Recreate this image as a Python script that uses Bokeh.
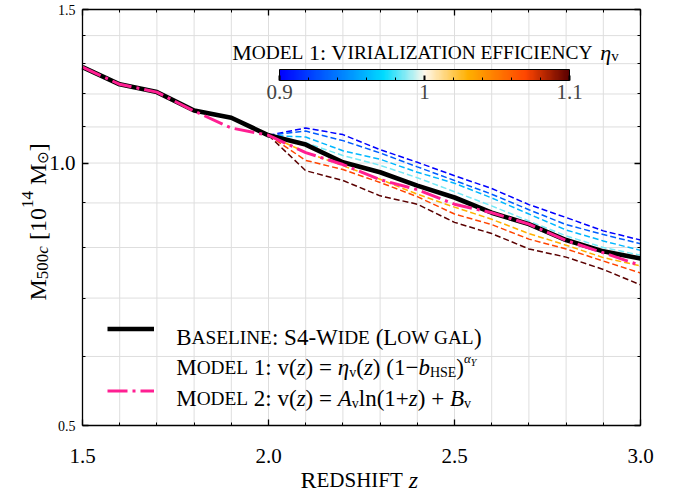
import math
from bokeh.plotting import figure
from bokeh.models import (Range1d, FixedTicker, LinearAxis, LogAxis, Label, Legend, LegendItem,
                          ColorBar, LinearColorMapper, CustomJSTickFormatter, LogScale)
from bokeh.embed import file_html
from bokeh.resources import INLINE

# ------------------------------------------------------------------ data
redshift = [1.5, 1.6, 1.7, 1.8, 1.9, 2.0, 2.1, 2.2, 2.3, 2.4, 2.5, 2.6, 2.7, 2.8, 2.9, 3.0]
mass_baseline = [1.288, 1.231, 1.206, 1.149, 1.127, 1.076, 1.050, 1.002, 0.976, 0.942, 0.913,
                 0.877, 0.851, 0.816, 0.792, 0.777]
mass_model2 = [1.288, 1.231, 1.206, 1.147, 1.097, 1.076, 1.028, 0.996, 0.957, 0.932, 0.897,
               0.877, 0.851, 0.815, 0.789, 0.763]

redshift_model1 = [2.0, 2.1, 2.2, 2.3, 2.4, 2.5, 2.6, 2.7, 2.8, 2.9, 3.0]
eta_values = [0.90, 0.93, 0.96, 0.985, 1.03, 1.07, 1.10]
mass_eta_0900 = [1.076, 1.097, 1.078, 1.036, 1.002, 0.967, 0.935, 0.896, 0.866, 0.836, 0.816]
mass_eta_0930 = [1.076, 1.088, 1.061, 1.027, 0.990, 0.955, 0.921, 0.884, 0.850, 0.828, 0.808]
mass_eta_0960 = [1.076, 1.071, 1.033, 1.010, 0.976, 0.948, 0.912, 0.874, 0.838, 0.814, 0.794]
mass_eta_0985 = [1.076, 1.055, 1.020, 0.994, 0.962, 0.927, 0.893, 0.858, 0.825, 0.800, 0.784]
mass_eta_1030 = [1.076, 1.029, 0.993, 0.958, 0.921, 0.890, 0.862, 0.830, 0.805, 0.779, 0.762]
mass_eta_1070 = [1.076, 1.007, 0.983, 0.950, 0.915, 0.874, 0.850, 0.818, 0.797, 0.772, 0.748]
mass_eta_1100 = [1.076, 0.980, 0.955, 0.917, 0.897, 0.855, 0.830, 0.797, 0.780, 0.755, 0.725]
model1_series = [mass_eta_0900, mass_eta_0930, mass_eta_0960, mass_eta_0985,
                 mass_eta_1030, mass_eta_1070, mass_eta_1100]

x_limits = (1.5, 3.0)
y_limits = (0.5, 1.5)
x_major_ticks = [1.5, 2.0, 2.5, 3.0]
x_minor_ticks = [1.6, 1.7, 1.8, 1.9, 2.1, 2.2, 2.3, 2.4, 2.6, 2.7, 2.8, 2.9]
x_tick_labels = ["1.5", "2.0", "2.5", "3.0"]
y_major_ticks = [0.5, 1.0, 1.5]
y_minor_ticks = [0.6, 0.7, 0.8, 0.9, 1.1, 1.2, 1.3, 1.4]
y_tick_labels = ["0.5", "1.0", "1.5"]
y_tick_label_sizes = [14, 21, 14]
cbar_low, cbar_high = 0.9, 1.1
cbar_major_ticks = [0.9, 1.0, 1.1]
cbar_minor_ticks = [0.92, 0.94, 0.96, 0.98, 1.02, 1.04, 1.06, 1.08]

# ------------------------------------------------------------------ layout (pixels)
WIDTH, HEIGHT = 689, 491
FR_L, FR_R, FR_T, FR_B = 82, 640, 9, 425   # plotting box inside the canvas

xpp = (x_limits[1] - x_limits[0]) / (FR_R - FR_L)
x_start = x_limits[0] - FR_L * xpp
x_end = x_limits[1] + (WIDTH - FR_R) * xpp
lpp = (math.log10(y_limits[1]) - math.log10(y_limits[0])) / (FR_B - FR_T)
y_start = 10 ** (math.log10(y_limits[0]) - (HEIGHT - FR_B) * lpp)
y_end = 10 ** (math.log10(y_limits[1]) + FR_T * lpp)

# ------------------------------------------------------------------ colours
CMAP_STOPS = [(0.00, (0, 0, 255)), (0.36, (0, 220, 255)), (0.50, (255, 248, 236)),
              (0.65, (255, 176, 0)), (0.85, (255, 69, 0)), (1.00, (90, 0, 0))]


def cmap(t):
    t = min(max(t, 0.0), 1.0)
    for (t0, c0), (t1, c1) in zip(CMAP_STOPS[:-1], CMAP_STOPS[1:]):
        if t <= t1:
            f = (t - t0) / (t1 - t0)
            return "#%02x%02x%02x" % tuple(int(round(a + (b - a) * f)) for a, b in zip(c0, c1))
    return "#%02x%02x%02x" % CMAP_STOPS[-1][1]


palette = [cmap(i / 255) for i in range(256)]
line_colors = [cmap((e - cbar_low) / (cbar_high - cbar_low)) for e in eta_values]

SERIF = "Liberation Serif"

# ------------------------------------------------------------------ figure
p = figure(width=WIDTH, height=HEIGHT, x_range=Range1d(x_start, x_end),
           y_range=Range1d(y_start, y_end), y_axis_type="log",
           x_axis_location=None, y_axis_location=None,
           output_backend="svg", toolbar_location=None, title=None,
           min_border_left=0, min_border_right=0, min_border_top=0, min_border_bottom=0)
p.y_scale = LogScale()
p.background_fill_color = "white"
p.border_fill_color = "white"
p.outline_line_color = None
p.xgrid.visible = False
p.ygrid.visible = False

# grid lines, bounded to the plotting box
grid_x = sorted(x_major_ticks + x_minor_ticks)
grid_y = sorted(y_major_ticks + y_minor_ticks)
p.segment(x0=grid_x, y0=[y_limits[0]] * len(grid_x), x1=grid_x, y1=[y_limits[1]] * len(grid_x),
          line_color="#dedede", line_width=1)
p.segment(x0=[x_limits[0]] * len(grid_y), y0=grid_y, x1=[x_limits[1]] * len(grid_y), y1=grid_y,
          line_color="#dedede", line_width=1)

blank = CustomJSTickFormatter(code="return '';")


def frame_axis(cls, side, loc, ticks, minor, bounds):
    ax = cls(ticker=FixedTicker(ticks=ticks, minor_ticks=minor), formatter=blank,
             fixed_location=loc, bounds=bounds)
    ax.axis_line_color = "black"
    ax.axis_line_width = 1.3
    ax.major_tick_in = 6
    ax.major_tick_out = 0
    ax.minor_tick_in = 3
    ax.minor_tick_out = 0
    ax.major_tick_line_color = "black"
    ax.minor_tick_line_color = "black"
    ax.major_tick_line_width = 1.3
    ax.minor_tick_line_width = 1
    ax.major_label_text_font_size = "0px"
    ax.major_label_standoff = 0
    p.add_layout(ax, side)


frame_axis(LinearAxis, "below", y_limits[0], x_major_ticks, x_minor_ticks, x_limits)
frame_axis(LinearAxis, "above", y_limits[1], x_major_ticks, x_minor_ticks, x_limits)
frame_axis(LogAxis, "left", x_limits[0], y_major_ticks, y_minor_ticks, y_limits)
frame_axis(LogAxis, "right", x_limits[1], y_major_ticks, y_minor_ticks, y_limits)

# tick labels
for t, lab in zip(x_major_ticks, x_tick_labels):
    p.add_layout(Label(x=t, x_units="data", y=HEIGHT - 455, y_units="screen", text=lab,
                       text_font=SERIF, text_font_size="21px", text_align="center",
                       text_baseline="alphabetic", text_color="black"))
for t, lab, sz in zip(y_major_ticks, y_tick_labels, y_tick_label_sizes):
    p.add_layout(Label(x=FR_L - 7, x_units="screen", y=t, y_units="data", text=lab,
                       text_font=SERIF, text_font_size="%dpx" % sz, text_align="right",
                       text_baseline="middle", text_color="black"))

# ------------------------------------------------------------------ lines
for series, col in zip(model1_series, line_colors):
    p.line(redshift_model1, series, line_color=col, line_width=1.5, line_dash="6 3")

r_base = p.line(redshift, mass_baseline, line_color="black", line_width=4.6)
r_m2 = p.line(redshift, mass_model2, line_color="#ff1f92", line_width=3, line_dash="20 5 3 5")
r_m1_key = p.line(x=[], y=[], line_color="black", line_width=1.4, line_dash="5 3")

legend = Legend(items=[LegendItem(label=" ", renderers=[r_base]),
                       LegendItem(label=" ", renderers=[r_m1_key]),
                       LegendItem(label=" ", renderers=[r_m2])],
                location=(107, 85), glyph_width=47, glyph_height=31, label_height=31,
                label_width=1, label_standoff=0, spacing=0, padding=0, margin=0,
                label_text_font_size="6px", border_line_color=None,
                background_fill_alpha=0)
p.add_layout(legend)

# ------------------------------------------------------------------ colour bar
mapper = LinearColorMapper(palette=palette, low=cbar_low, high=cbar_high)
cbar = ColorBar(color_mapper=mapper, orientation="horizontal", width=290, height=11,
                padding=0, margin=0, location=(279, 390),
                ticker=FixedTicker(ticks=cbar_major_ticks, minor_ticks=cbar_minor_ticks),
                formatter=CustomJSTickFormatter(
                    code="return Math.abs(tick - 1) < 1e-6 ? '1' : tick.toFixed(1);"),
                major_label_text_font=SERIF, major_label_text_font_size="21px",
                label_standoff=4, major_tick_in=5, major_tick_out=0, minor_tick_in=3,
                minor_tick_out=0, major_tick_line_color="black", major_tick_line_width=2,
                minor_tick_line_color="black", minor_tick_line_width=1,
                bar_line_color="black", bar_line_width=1,
                background_fill_alpha=0, border_line_color=None)
p.add_layout(cbar)

# ------------------------------------------------------------------ rich text helpers
TIMES = {' ': 250, '(': 333, ')': 333, '+': 564, ',': 250, '-': 333, '.': 250, ':': 278,
         '=': 564, '[': 333, ']': 333, '\u2212': 564, '\u03b7': 500, '\u03b1': 520,
         '\u2299': 838,
         'A': 722, 'B': 667, 'C': 667, 'D': 722, 'E': 611, 'F': 556, 'G': 722, 'H': 722,
         'I': 333, 'J': 389, 'K': 722, 'L': 611, 'M': 889, 'N': 722, 'O': 722, 'P': 556,
         'Q': 722, 'R': 667, 'S': 556, 'T': 611, 'U': 722, 'V': 722, 'W': 944, 'X': 722,
         'Y': 722, 'Z': 611,
         'a': 444, 'b': 500, 'c': 444, 'd': 500, 'e': 444, 'f': 333, 'g': 500, 'h': 500,
         'i': 278, 'l': 278, 'n': 500, 'o': 500, 'r': 333, 's': 389, 't': 278, 'v': 500,
         'z': 444}
for d in "0123456789":
    TIMES[d] = 500
TIMES_I = {'z': 389, 'b': 500, 'A': 611, 'B': 611, 'c': 444, 'v': 444, 'Y': 556,
           '\u03b7': 500, '\u03b1': 520}


def add_runs(runs, x0, y0, angle=0.0):
    adv = 0.0
    for run in runs:
        text, size, italic, dy = run[:4]
        font = run[4] if len(run) > 4 else SERIF
        table = TIMES_I if italic else TIMES
        core = text.strip(' ')
        lead = len(text) - len(text.lstrip(' '))
        trail = len(text) - lead - len(core)
        adv += lead * 250 * size / 1000.0
        if core:
            if angle == 0.0:
                lx, ly = x0 + adv, y0 + dy
            else:
                lx, ly = x0 - dy, y0 + adv
            p.add_layout(Label(x=lx, y=ly, x_units="screen", y_units="screen", text=core,
                               text_font=font, text_font_size="%gpx" % size,
                               text_font_style="italic" if italic else "normal",
                               text_color="black", text_baseline="alphabetic",
                               text_align="left", angle=angle))
            adv += sum(table.get(ch, TIMES.get(ch, 500)) for ch in core) * size / 1000.0
        adv += trail * 250 * size / 1000.0


C, S, SUB = 23, 19.3, 14
# colour-bar title
add_runs([("M", 22, False, 0), ("ODEL", 19.4, False, 0), (" 1: V", 22, False, 0),
          ("IRIALIZATION EFFICIENCY", 19.4, False, 0), (" \u03b7", 22, True, 0),
          ("v", 15, False, -4)], 231.7, HEIGHT - 51.7)
# legend texts
add_runs([("B", C, False, 0), ("ASELINE", S, False, 0), (": S4-W", C, False, 0),
          ("IDE", S, False, 0), (" (L", C, False, 0), ("OW GAL", S, False, 0),
          (")", C, False, 0)], 175.7, HEIGHT - 337.3)
add_runs([("M", C, False, 0), ("ODEL", S, False, 0), (" 1: v(", C, False, 0),
          ("z", C, True, 0), (") = ", C, False, 0), ("\u03b7", C, True, 0),
          ("v", SUB, False, -5), ("(", C, False, 0), ("z", C, True, 0),
          (") (1", C, False, 0), ("\u2212", C, False, 0), ("b", C, True, 0),
          ("HSE", SUB, False, -5), (")", C, False, 0), ("\u03b1", 13, True, 9),
          ("Y", 10, True, 5)], 175.7, HEIGHT - 367.3)
add_runs([("M", C, False, 0), ("ODEL", S, False, 0), (" 2: v(", C, False, 0),
          ("z", C, True, 0), (") = ", C, False, 0), ("A", C, True, 0),
          ("v", SUB, False, -5), ("ln(1+", C, False, 0), ("z", C, True, 0),
          (") + ", C, False, 0), ("B", C, True, 0), ("v", SUB, False, -5)],
         175.7, HEIGHT - 398.3)
# x-axis label
add_runs([("R", 24, False, 0), ("EDSHIFT", 21, False, 0), (" z", 24, True, 0)],
         300, HEIGHT - 479)
# y-axis label (rotated)
add_runs([("M", 24, False, 0), ("500", 17, False, -5), ("c", 17, True, -5),
          (" [10", 24, False, 0), ("14", 17, False, 10), (" M", 24, False, 0),
          ("\u2299", 15, False, -5, "DejaVu Sans"), ("]", 24, False, 0)],
         37, HEIGHT - 300, angle=math.pi / 2)

open("out.html", "w").write(file_html(p, INLINE))
